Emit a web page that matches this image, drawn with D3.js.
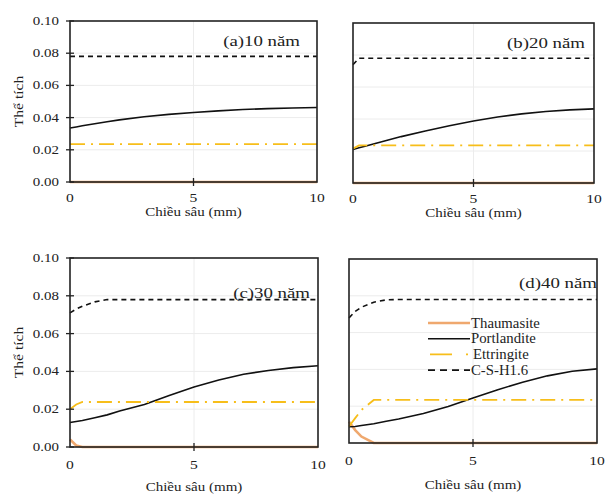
<!DOCTYPE html>
<html>
<head>
<meta charset="utf-8">
<script src="https://cdn.jsdelivr.net/npm/d3@7"></script>
<style>
  body { margin: 0; background: #fff; }
</style>
</head>
<body>
<div id="chart"></div>
<script>
// depth grid (mm), shared by every series
const depth = [0, 0.25, 0.5, 1, 1.5, 2, 3, 4, 5, 6, 7, 8, 9, 10];

const seriesNames = ["Thaumasite", "Portlandite", "Ettringite", "C-S-H1.6"];
const panelTitles = ["(a)10 năm", "(b)20 năm", "(c)30 năm", "(d)40 năm"];
const yTicks = [0, 0.02, 0.04, 0.06, 0.08, 0.10];
const xTicks = [0, 5, 10];

// (a) 10 years
const thau10 = [0, 0, 0, 0, 0, 0, 0, 0, 0, 0, 0, 0, 0, 0];
const port10 = [0.0335, 0.0342, 0.0349, 0.0362, 0.0374, 0.0386, 0.0405, 0.042, 0.0432, 0.0442, 0.045, 0.0456, 0.046, 0.0463];
const ettr10 = [0.0235, 0.0235, 0.0235, 0.0235, 0.0235, 0.0235, 0.0235, 0.0235, 0.0235, 0.0235, 0.0235, 0.0235, 0.0235, 0.0235];
const csh10  = [0.078, 0.078, 0.078, 0.078, 0.078, 0.078, 0.078, 0.078, 0.078, 0.078, 0.078, 0.078, 0.078, 0.078];

// (b) 20 years
const thau20 = [0, 0, 0, 0, 0, 0, 0, 0, 0, 0, 0, 0, 0, 0];
const port20 = [0.021, 0.022, 0.023, 0.025, 0.027, 0.029, 0.0325, 0.0358, 0.0388, 0.0413, 0.0432, 0.0447, 0.0457, 0.0463];
const ettr20 = [0.0215, 0.0235, 0.0235, 0.0235, 0.0235, 0.0235, 0.0235, 0.0235, 0.0235, 0.0235, 0.0235, 0.0235, 0.0235, 0.0235];
const csh20  = [0.074, 0.078, 0.078, 0.078, 0.078, 0.078, 0.078, 0.078, 0.078, 0.078, 0.078, 0.078, 0.078, 0.078];

// (c) 30 years
const thau30 = [0.004, 0.0008, 0, 0, 0, 0, 0, 0, 0, 0, 0, 0, 0, 0];
const port30 = [0.013, 0.0135, 0.014, 0.0155, 0.017, 0.019, 0.0225, 0.0273, 0.0318, 0.0355, 0.0385, 0.0405, 0.042, 0.043];
const ettr30 = [0.020, 0.0225, 0.0238, 0.0238, 0.0238, 0.0238, 0.0238, 0.0238, 0.0238, 0.0238, 0.0238, 0.0238, 0.0238, 0.0238];
const csh30  = [0.071, 0.073, 0.0745, 0.0768, 0.078, 0.078, 0.078, 0.078, 0.078, 0.078, 0.078, 0.078, 0.078, 0.078];

// (d) 40 years
const thau40 = [0.0115, 0.007, 0.0035, 0, 0, 0, 0, 0, 0, 0, 0, 0, 0, 0];
const port40 = [0.0088, 0.009, 0.0095, 0.0105, 0.0118, 0.013, 0.016, 0.0198, 0.0245, 0.029, 0.033, 0.0365, 0.039, 0.0403];
const ettr40 = [0.009, 0.0135, 0.018, 0.0234, 0.0234, 0.0234, 0.0234, 0.0234, 0.0234, 0.0234, 0.0234, 0.0234, 0.0234, 0.0234];
const csh40  = [0.068, 0.0715, 0.0738, 0.0765, 0.0778, 0.078, 0.078, 0.078, 0.078, 0.078, 0.078, 0.078, 0.078, 0.078];

const panelData = [
  [thau10, port10, ettr10, csh10],
  [thau20, port20, ettr20, csh20],
  [thau30, port30, ettr30, csh30],
  [thau40, port40, ettr40, csh40]
];

// plot boxes, plus where each panel title sits
const boxes = [
  { left: 70,  right: 317, top: 21,  bottom: 182, tx: 17, ty: 25, tick: 20, lab: 34 },
  { left: 353, right: 594, top: 23,  bottom: 183, tx: 9,  ty: 25, tick: 20, lab: 34 },
  { left: 70,  right: 318, top: 258, bottom: 447, tx: 8,  ty: 40, tick: 22, lab: 44 },
  { left: 349, right: 597, top: 259, bottom: 443, tx: 0,  ty: 29, tick: 22, lab: 46 }
];

const styles = [
  { stroke: "#EFA86E", width: 2.6, dash: null },
  { stroke: "#111",    width: 1.6, dash: null },
  { stroke: "#F7BE1A", width: 1.8, dash: "15,6,2,6" },
  { stroke: "#111",    width: 1.6, dash: "5,4" }
];

const serif = '"Liberation Serif"';

const width = 609, height = 495;
const svg = d3.select("#chart").append("svg")
  .attr("width", width)
  .attr("height", height);

// the scan is stretched sideways, so text gets a horizontal scale
function label(g, x, y, str, size, anchor, sx, rot) {
  return g.append("text")
    .attr("transform", `translate(${x},${y})` + (rot ? ` rotate(${rot})` : "") + ` scale(${sx},1)`)
    .attr("text-anchor", anchor)
    .attr("font-size", size)
    .attr("fill", "#222")
    .style("font-family", serif)
    .text(str);
}

boxes.forEach((b, i) => {
  const x = d3.scaleLinear().domain([0, 10]).range([b.left, b.right]);
  const y = d3.scaleLinear().domain([0, 0.10]).range([b.bottom, b.top]);
  const g = svg.append("g");

  // faint grid
  g.selectAll(".hg").data(yTicks.slice(1, -1)).enter().append("line")
    .attr("x1", b.left).attr("x2", b.right)
    .attr("y1", d => y(d)).attr("y2", d => y(d))
    .attr("stroke", "#ececec").attr("stroke-width", 1);
  g.append("line")
    .attr("x1", x(5)).attr("x2", x(5))
    .attr("y1", b.top).attr("y2", b.bottom)
    .attr("stroke", "#ececec").attr("stroke-width", 1);

  // series
  const line = d3.line().x((d, k) => x(depth[k])).y(d => y(d));
  panelData[i].forEach((vals, s) => {
    g.append("path")
      .datum(vals)
      .attr("d", line)
      .attr("fill", "none")
      .attr("stroke", styles[s].stroke)
      .attr("stroke-width", styles[s].width)
      .attr("stroke-dasharray", styles[s].dash);
  });

  // frame
  g.append("rect")
    .attr("x", b.left).attr("y", b.top)
    .attr("width", b.right - b.left).attr("height", b.bottom - b.top)
    .attr("fill", "none").attr("stroke", "#222").attr("stroke-width", 1.6);

  // x ticks cross the baseline at 5 only
  g.append("line")
    .attr("x1", x(5)).attr("x2", x(5))
    .attr("y1", b.bottom - 4).attr("y2", b.bottom + 4)
    .attr("stroke", "#222").attr("stroke-width", 1.3);
  xTicks.forEach(t => label(g, x(t), b.bottom + b.tick, d3.format("d")(t), 12, "middle", 1.3));

  label(g, x(5), b.bottom + b.lab, "Chiều sâu (mm)", 12, "middle", 1.25);

  // y axis only on the left column
  if (i % 2 === 0) {
    g.selectAll(".yt").data(yTicks).enter().append("line")
      .attr("x1", b.left - 4).attr("x2", b.left + 4)
      .attr("y1", d => y(d)).attr("y2", d => y(d))
      .attr("stroke", "#222").attr("stroke-width", 1.3);
    yTicks.forEach(t => label(g, b.left - 11, y(t) + 4, d3.format(".2f")(t), 11.5, "end", 1.3));

    label(g, 23, (b.top + b.bottom) / 2, "Thể tích", 12, "middle", 1.3, -90);
  }

  // panel title
  label(g, b.right - b.tx, b.top + b.ty, panelTitles[i], 14.5, "end", 1.3);

  // legend inside panel (d)
  if (i === 3) {
    const lg = g.append("g").attr("transform", "translate(428,323)");
    seriesNames.forEach((name, s) => {
      const row = lg.append("g").attr("transform", `translate(0,${s * 15.7})`);
      const st = styles[s];
      row.append("line")
        .attr("x1", s === 2 ? 2 : 0).attr("x2", 42)
        .attr("y1", 0).attr("y2", 0)
        .attr("stroke", st.stroke)
        .attr("stroke-width", st.width)
        .attr("stroke-dasharray", s === 2 ? "22,14,2,40" : s === 3 ? "7,5" : null);
      label(row, s === 2 ? 45 : 43, 4.5, name, 14.5, "start", 1.02);
    });
  }
});
</script>
</body>
</html>
